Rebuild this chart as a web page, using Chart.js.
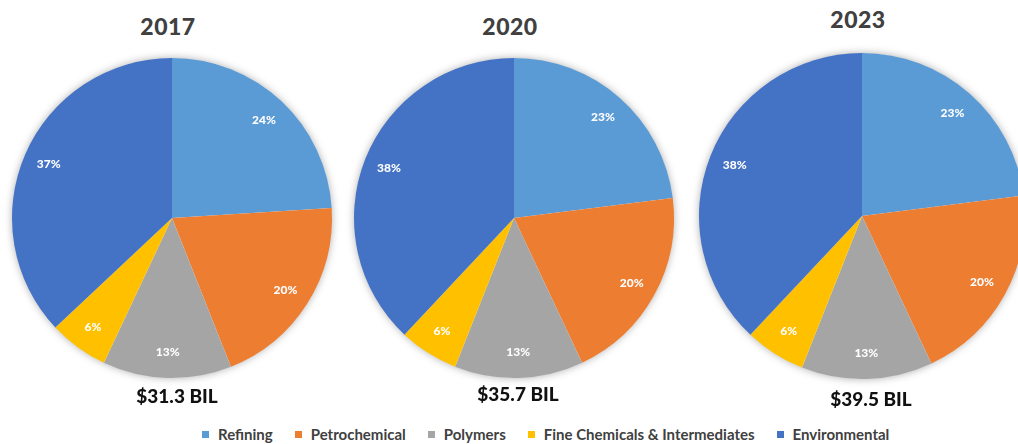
<!DOCTYPE html>
<html lang="en">
  <head>
    <meta charset="UTF-8" />
    <title>Market share by segment</title>
    <script src="https://cdn.jsdelivr.net/npm/chart.js"></script>
    <style>
      html, body { margin: 0; padding: 0; background: #fff; overflow: hidden; }
      body { width: 1018px; height: 444px; position: relative; font-family: Lato, "Open Sans", sans-serif; }
      .pie { position: absolute; }
      .year { position: absolute; font-weight: 900; font-size: 23px; color: #404040; transform: translateX(-50%); white-space: nowrap; letter-spacing: 0.5px; }
      .total { position: absolute; font-weight: 900; font-size: 19px; color: #111; transform: translateX(-50%); white-space: nowrap; }
      #legend { position: absolute; left: 202px; top: 425px; display: flex; font-size: 15px; font-weight: bold; color: #404040; white-space: nowrap; }
      #legend span.item { display: flex; align-items: center; margin-right: 22px; }
      #legend i { display: inline-block; width: 7px; height: 7px; margin-right: 9px; }
    </style>
  </head>
  <body>
    <div id="legend"></div>

    <script>
      // data
      const segments = ["Refining", "Petrochemical", "Polymers", "Fine Chemicals & Intermediates", "Environmental"];
      const colors = ["#5B9BD5", "#ED7D31", "#A5A5A5", "#FFC000", "#4472C4"];
      const years = ["2017", "2020", "2023"];
      const share2017 = [24, 20, 13, 6, 37];
      const share2020 = [23, 20, 13, 6, 38];
      const share2023 = [23, 20, 13, 6, 38];
      const totals = ["$31.3 BIL", "$35.7 BIL", "$39.5 BIL"];

      // where each pie sits on the page
      const pies = [
        { values: share2017, cx: 172, cy: 218, r: 160, titleY: 12, totalY: 384, totalX: 177 },
        { values: share2020, cx: 514, cy: 218, r: 160, titleY: 12, totalY: 382, totalX: 518 },
        { values: share2023, cx: 862, cy: 216, r: 163, titleY: 5, totalY: 387, totalX: 871 },
      ];

      // soft grey halo behind the pie
      const shadowPlugin = {
        id: "pieShadow",
        beforeDatasetsDraw(chart) {
          const arc = chart.getDatasetMeta(0).data[0];
          if (!arc) return;
          const c = chart.ctx;
          c.save();
          c.shadowColor = "rgba(0,0,0,0.35)";
          c.shadowBlur = 8;
          c.beginPath();
          c.arc(arc.x, arc.y, arc.outerRadius - 0.5, 0, Math.PI * 2);
          c.fillStyle = "#ffffff";
          c.fill();
          c.restore();
        },
      };

      // percent labels inside slices
      const labelPlugin = {
        id: "pctLabels",
        afterDatasetsDraw(chart) {
          const c = chart.ctx;
          const ds = chart.data.datasets[0];
          c.save();
          c.fillStyle = "#ffffff";
          c.font = "900 12px Lato, 'Open Sans', sans-serif";
          c.textAlign = "center";
          c.textBaseline = "middle";
          chart.getDatasetMeta(0).data.forEach((arc, i) => {
            const mid = (arc.startAngle + arc.endAngle) / 2;
            const rr = arc.outerRadius * 0.84;
            c.fillText(ds.data[i] + "%", arc.x + Math.cos(mid) * rr, arc.y + Math.sin(mid) * rr);
          });
          c.restore();
        },
      };

      pies.forEach((p, k) => {
        const size = (p.r + 10) * 2;
        const wrap = document.createElement("div");
        wrap.className = "pie";
        wrap.style.left = p.cx - size / 2 + "px";
        wrap.style.top = p.cy - size / 2 + "px";
        wrap.style.width = size + "px";
        wrap.style.height = size + "px";
        const canvas = document.createElement("canvas");
        canvas.width = size;
        canvas.height = size;
        wrap.appendChild(canvas);
        document.body.appendChild(wrap);

        const title = document.createElement("div");
        title.className = "year";
        title.textContent = years[k];
        title.style.left = p.cx - 4 + "px";
        title.style.top = p.titleY + "px";
        document.body.appendChild(title);

        const total = document.createElement("div");
        total.className = "total";
        total.textContent = totals[k];
        total.style.left = p.totalX + "px";
        total.style.top = p.totalY + "px";
        document.body.appendChild(total);

        new Chart(canvas.getContext("2d"), {
          type: "pie",
          data: {
            labels: segments,
            datasets: [
              {
                data: p.values,
                backgroundColor: colors,
                borderColor: colors,
                borderWidth: 0,
              },
            ],
          },
          options: {
            responsive: false,
            animation: false,
            layout: { padding: 10 },
            plugins: {
              legend: { display: false },
              tooltip: { enabled: false },
            },
          },
          plugins: [shadowPlugin, labelPlugin],
        });
      });

      // legend row
      const legend = document.getElementById("legend");
      segments.forEach((name, i) => {
        const item = document.createElement("span");
        item.className = "item";
        const sw = document.createElement("i");
        sw.style.background = colors[i];
        item.appendChild(sw);
        item.appendChild(document.createTextNode(name));
        legend.appendChild(item);
      });
    </script>
  </body>
</html>
